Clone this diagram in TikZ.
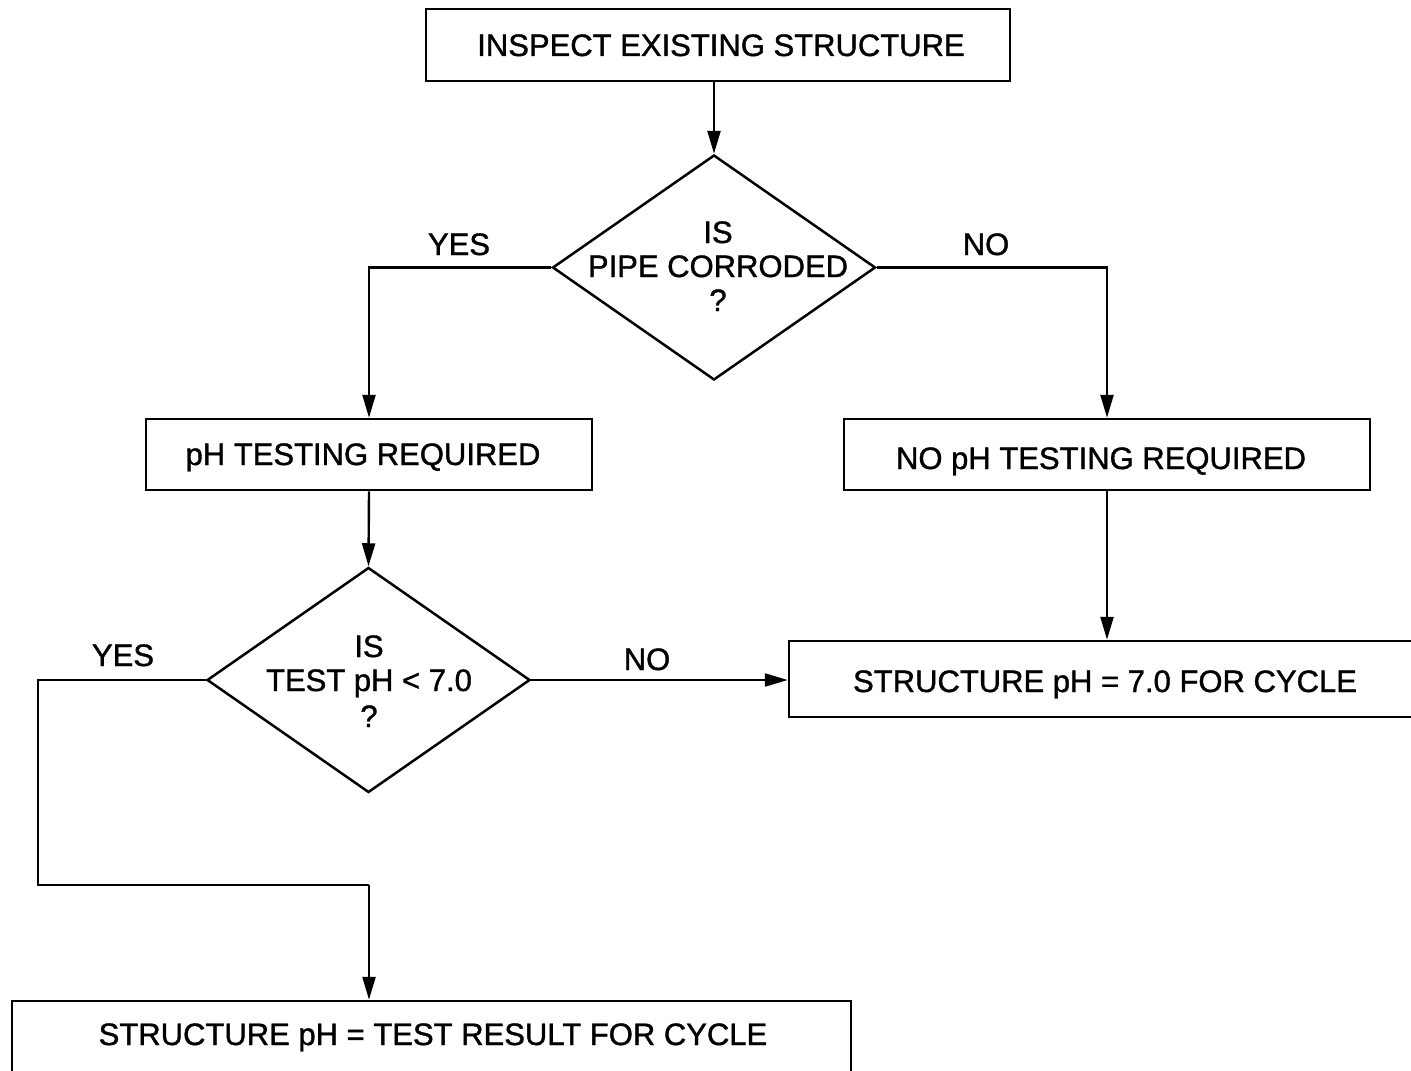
\documentclass[tikz,border=0pt]{standalone}
\usepackage{fontspec}
\setmainfont{Liberation Sans}[BoldFont=Liberation Sans,BoldFeatures={FakeBold=1.2}]
\usetikzlibrary{shapes.geometric,arrows.meta}
\begin{document}
\begin{tikzpicture}[x=0.5pt,y=-0.5pt,
  every node/.style={font=\fontsize{15.5}{17}\selectfont\bfseries},
  stepbox/.style={draw,line width=1.25pt,inner sep=0pt,minimum width=#1},
  decision/.style={draw,diamond,line width=1.25pt,inner sep=0pt,
    minimum width=161.5pt,minimum height=112.5pt},
  lbl/.style={inner sep=0pt,anchor=base},
  flow/.style={line width=1.2pt,-{Triangle[length=11.5pt,width=6.5pt]}},
  line/.style={line width=1.2pt}]
\useasboundingbox (0,0) rectangle (1411,1070);
\clip (0,0) rectangle (1411,1070);
\fill[white] (0,0) rectangle (1411,1070);

% process boxes
\node[stepbox=292pt,minimum height=36pt] (b1) at (718,45) {};
\node[stepbox=223pt,minimum height=35.5pt] (b2) at (369,454.5) {};
\node[stepbox=263pt,minimum height=35.5pt] (b3) at (1107,454.5) {};
\node[stepbox=316pt,minimum height=38pt] (b4) at (1105,679) {};
\node[stepbox=419.5pt,minimum height=37pt] (b5) at (431.5,1038) {};

% box captions (placed on their baselines)
\node[lbl] (b1t) at (721,56) {INSPECT EXISTING STRUCTURE};
\node[lbl] (b2t) at (363,465) {pH TESTING REQUIRED};
\node[lbl] (b3t) at (1101,469) {NO pH TESTING REQUIRED};
\node[lbl] (b4t) at (1105,692) {STRUCTURE pH = 7.0 FOR CYCLE};
\node[lbl] (b5t) at (433,1045) {STRUCTURE pH = TEST RESULT FOR CYCLE};

% decisions
\node[decision] (d1) at (714,267.5) {};
\node[lbl] (d1a) at (718,243) {IS};
\node[lbl] (d1b) at (718,277) {PIPE CORRODED};
\node[lbl] (d1c) at (718,311) {?};
\node[decision] (d2) at (368.5,680) {};
\node[lbl] (d2a) at (369,657) {IS};
\node[lbl] (d2b) at (369,691) {TEST pH < 7.0};
\node[lbl] (d2c) at (369,727) {?};

% branch labels
\node[lbl] (y1) at (459,255) {YES};
\node[lbl] (n1) at (986,255) {NO};
\node[lbl] (y2) at (123,666) {YES};
\node[lbl] (n2) at (647,670) {NO};

% connectors
\coordinate (c1) at (38,885);
\coordinate (c2) at (369,885);
\draw[flow] (b1.south -| d1.north) -- (d1.north);
\draw[flow] (d1.west) -| (b2.north);
\draw[flow] (d1.east) -| (b3.north);
\draw[flow] (b3.south) -- (b3.south |- b4.north);
\draw[flow] (b2.south) -- (d2.north);
\draw[flow] (d2.east) -- (d2.east -| b4.west);
\draw[line] (d2.west) -| (c1) -- (c2);
\draw[flow] (c2) -- (c2 |- b5.north);
\end{tikzpicture}
\end{document}
